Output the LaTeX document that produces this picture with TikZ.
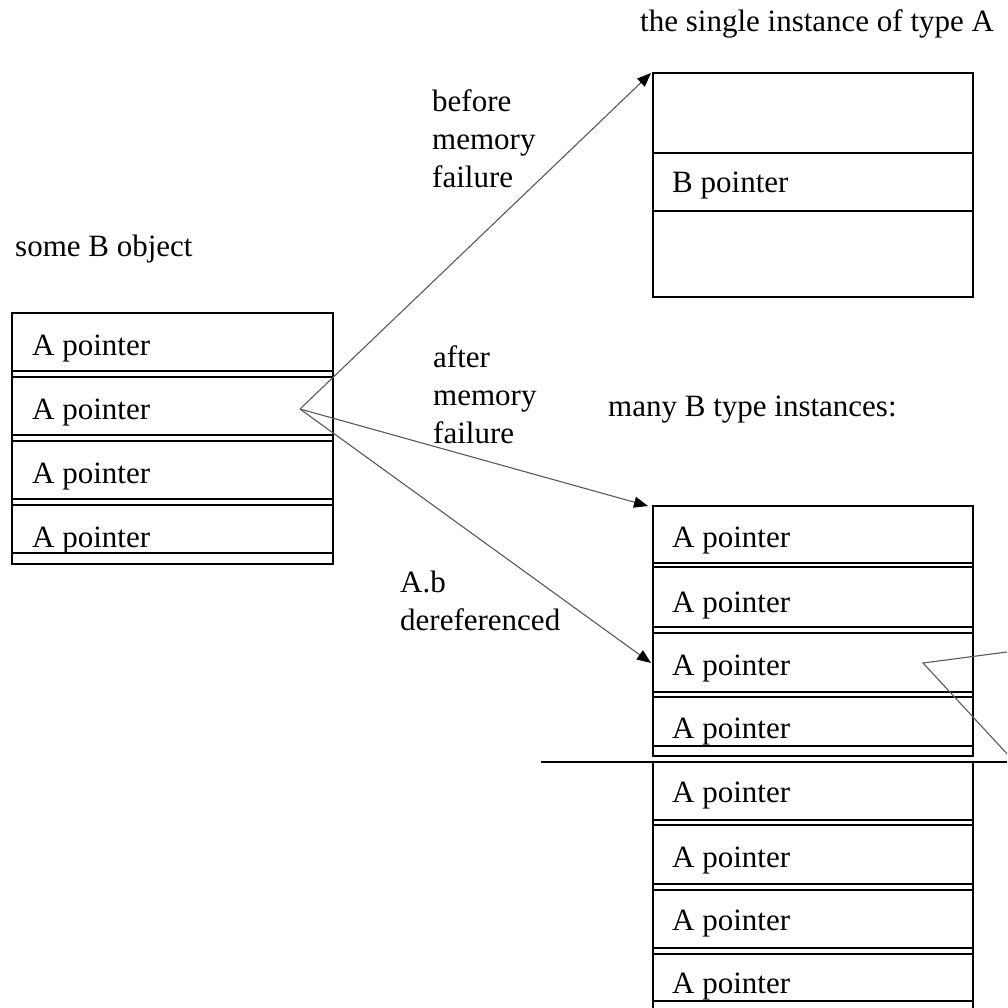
\documentclass[tikz,border=0pt]{standalone}
\usepackage{fontspec}
\setmainfont{Liberation Serif}
\usetikzlibrary{arrows.meta}
\begin{document}
\begin{tikzpicture}[x=1pt,y=-1pt,
  frame/.style={draw=black, line width=1.4pt, inner sep=0pt, outer sep=0pt,
                anchor=north west, minimum width=#1},
  sep/.style={draw=black, line width=1.4pt},
  lbl/.style={font=\fontsize{31}{38}\selectfont, inner sep=0pt, anchor=base west},
  ptr/.style={draw=black!65, line width=1.1pt,
              -{Triangle[length=14pt,width=11pt,color=black]}},
  ray/.style={draw=black!65, line width=1.1pt}]

\useasboundingbox (0,0) rectangle (1007,1008);
\clip (0,0) rectangle (1007,1008);

% ---- some B object ----
\node[lbl] (titleB) at (15,256) {some B object};
\node[frame=321pt, minimum height=251pt] (bobj) at (12,313) {};
\foreach \y in {371,377,435,441,499,505,553}
  \draw[sep] (12,\y) -- (333,\y);
\node[lbl] (b1) at (32,355) {A pointer};
\node[lbl] (b2) at (32,419) {A pointer};
\node[lbl] (b3) at (32,483) {A pointer};
\node[lbl] (b4) at (32,547) {A pointer};

% ---- the single A instance ----
\node[lbl] (titleA) at (640,32) {the single instance of type A};
\node[frame=320pt, minimum height=224pt] (aobj) at (653,73) {};
\foreach \y in {153,211}
  \draw[sep] (653,\y) -- (973,\y);
\node[lbl] (abp) at (672,193) {B pointer};

% ---- many B instances ----
\node[lbl] (titleMany) at (608,416) {many B type instances:};
\node[frame=320pt, minimum height=250pt] (bstack) at (653,506) {};
\foreach \y in {563,567,627,633,692,697,746}
  \draw[sep] (653,\y) -- (973,\y);
\node[lbl] (s1) at (672,547) {A pointer};
\node[lbl] (s2) at (672,612) {A pointer};
\node[lbl] (s3) at (672,675) {A pointer};
\node[lbl] (s4) at (672,738) {A pointer};

\draw[sep] (541,762) -- (1007,762);

\node[frame=320pt, minimum height=260pt] (bstack2) at (653,762) {};
\foreach \y in {820,825,884,890,948,954,1001}
  \draw[sep] (653,\y) -- (973,\y);
\node[lbl] (t1) at (672,802) {A pointer};
\node[lbl] (t2) at (672,867) {A pointer};
\node[lbl] (t3) at (672,930) {A pointer};
\node[lbl] (t4) at (672,993) {A pointer};

% ---- pointers ----
\coordinate (src) at (300,409);
\coordinate (deref) at (651,663);
\draw[ptr] (src) -- ([xshift=-2pt]aobj.north west);
\draw[ptr] (src) -- ([xshift=-5pt]bstack.north west);
\draw[ptr] (src) -- (deref);

\coordinate (vtx) at (923,663);
\coordinate (out1) at (1010,651.6);
\coordinate (out2) at (1010,757);
\draw[ray] (out1) -- (vtx) -- (out2);

% ---- pointer captions (anchored at the baseline of their last line) ----
\node[lbl, align=left] (before) at (432,188) {before\\memory\\failure};
\node[lbl, align=left] (after) at (433,443) {after\\memory\\failure};
\node[lbl, align=left] (derefcap) at (400,630) {A.b\\dereferenced};
\end{tikzpicture}
\end{document}
